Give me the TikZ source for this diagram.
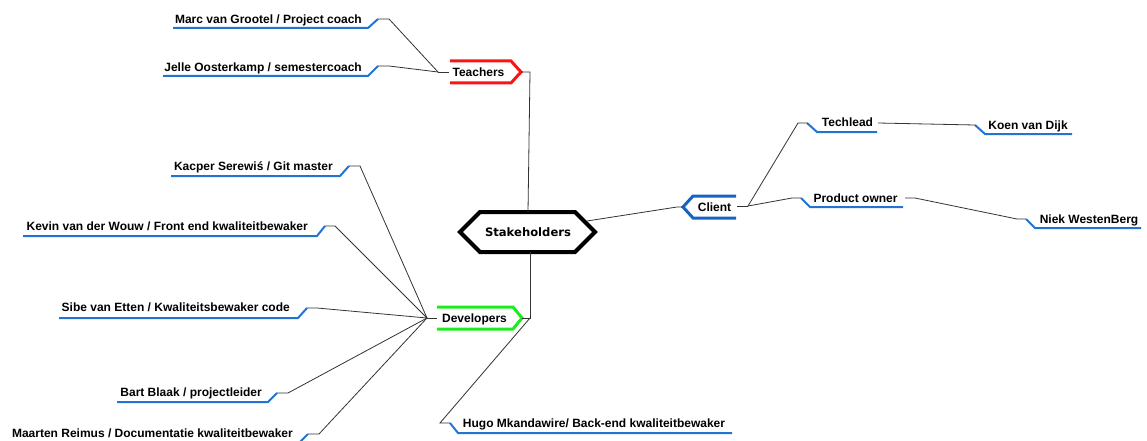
\documentclass[tikz,border=0pt]{standalone}
\usepackage{fontspec}
\setmainfont{Liberation Sans}
\newfontfamily\hexfont{DejaVu Sans}
\definecolor{ublue}{RGB}{35,115,210}
\definecolor{cblue}{RGB}{20,100,195}
\definecolor{tred}{RGB}{250,20,20}
\definecolor{dgreen}{RGB}{30,235,30}
\begin{document}
\begin{tikzpicture}[x=1pt,y=-1pt,
  conn/.style={draw=black!80, line width=0.8pt},
  uline/.style={draw=ublue, line width=2pt},
  lbl/.style={font=\bfseries\fontsize{12}{14}\selectfont, inner sep=0pt, text height=8.6pt, text depth=0pt},
  tagframe/.style={line width=3pt}]
\useasboundingbox (0,0) rectangle (1147,441);

% ---------- central node ----------
\node[font=\hexfont\bfseries\fontsize{11.6}{14}\selectfont, inner sep=0pt] (stake) at (528,232) {Stakeholders};
\draw[line width=4pt] (460,232) -- (480,212) -- (575,212) -- (595,232) -- (575,252) -- (480,252) -- cycle;
\coordinate (stake-top) at (528,212);
\coordinate (stake-bot) at (530,252);
\coordinate (stake-right) at (587,221);

% ---------- Teachers ----------
\node[lbl] (teach) at (478.5,72) {Teachers};
\draw[tagframe, draw=tred] (450,61) -- (511,61) -- (521,72) -- (511,83) -- (450,83);
\coordinate (teach-tip) at (521,72);
\coordinate (teach-j) at (438,72);
\draw[conn] (teach-j) -- (449,72);
\draw[conn] (teach-tip) -- (530,72) -- (stake-top);

\node[lbl, anchor=east] (marc) at (362,19) {Marc van Grootel / Project coach};
\draw[uline] (173,28) -- (368,28) -- (378,19) coordinate (marc-c);
\draw[conn] (marc-c) -- ++(11,0) -- (teach-j);

\node[lbl, anchor=east] (jelle) at (362,67) {Jelle Oosterkamp / semestercoach};
\draw[uline] (163,76) -- (368,76) -- (378,66) coordinate (jelle-c);
\draw[conn] (jelle-c) -- ++(11,0) -- (teach-j);

% ---------- Client ----------
\node[lbl] (client) at (714.5,207) {Client};
\draw[tagframe, draw=cblue] (736,196) -- (693,196) -- (683,207) -- (693,218) -- (736,218);
\coordinate (client-tip) at (683,207);
\coordinate (client-j) at (748,206);
\draw[conn] (stake-right) -- (677,207) -- (client-tip);
\draw[conn] (737,206) -- (client-j);

\node[lbl] (tech) at (847.5,122) {Techlead};
\coordinate (tech-c) at (807,123);
\draw[uline] (tech-c) -- (817,132) -- (877,132);
\draw[conn] (client-j) -- (798,123) -- (tech-c);

\node[lbl] (koen) at (1028,125) {Koen van Dijk};
\coordinate (koen-c) at (975,125);
\draw[uline] (koen-c) -- (985,134) -- (1072,134);
\draw[conn] (878,123) -- (koen-c);

\node[lbl] (po) at (855.5,198) {Product owner};
\coordinate (po-c) at (801,198);
\draw[uline] (po-c) -- (810,207) -- (903,207);
\draw[conn] (client-j) -- (792,198) -- (po-c);

\node[lbl] (niek) at (1089,219) {Niek WestenBerg};
\coordinate (niek-c) at (1026,219);
\draw[uline] (niek-c) -- (1035,228) -- (1141,228);
\draw[conn] (905,198) -- (915,198) -- (1017,219) -- (niek-c);

% ---------- Developers ----------
\node[lbl] (dev) at (474.5,318) {Developers};
\draw[tagframe, draw=dgreen] (437,307) -- (513,307) -- (522,318) -- (513,329) -- (437,329);
\coordinate (dev-tip) at (522,318);
\coordinate (dev-j) at (427,318);
\coordinate (dev-r) at (530,318);
\draw[conn] (dev-j) -- (437,318);
\draw[conn] (dev-tip) -- (dev-r) -- (stake-bot);

\node[lbl, anchor=east] (kacper) at (333,166) {Kacper Serewiś / Git master};
\draw[uline] (171,176) -- (340,176) -- (349,166) coordinate (kacper-c);
\draw[conn] (kacper-c) -- ++(11,0) -- (dev-j);

\node[lbl, anchor=east] (kevin) at (308,226) {Kevin van der Wouw / Front end kwaliteitbewaker};
\draw[uline] (23,236) -- (317,236) -- (325,226) coordinate (kevin-c);
\draw[conn] (kevin-c) -- ++(10,0) -- (dev-j);

\node[lbl, anchor=east] (sibe) at (290,307) {Sibe van Etten / Kwaliteitsbewaker code};
\draw[uline] (59,318) -- (298,318) -- (307,308) coordinate (sibe-c);
\draw[conn] (sibe-c) -- ++(10,0) -- (dev-j);

\node[lbl, anchor=east] (bart) at (262,392) {Bart Blaak / projectleider};
\draw[uline] (117,402) -- (268,402) -- (277,393) coordinate (bart-c);
\draw[conn] (bart-c) -- ++(11,0) -- (dev-j);

\node[lbl, anchor=east] (maarten) at (293,433) {Maarten Reimus / Documentatie kwaliteitbewaker};
\draw[uline] (10,443) -- (299,443) -- (308,434) coordinate (maarten-c);
\draw[conn] (maarten-c) -- ++(11,0) -- (dev-j);

\node[lbl] (hugo) at (594,423) {Hugo Mkandawire/ Back-end kwaliteitbewaker};
\coordinate (hugo-c) at (450,423);
\draw[uline] (hugo-c) -- (458,433) -- (732,433);
\draw[conn] (dev-r) -- (440,423) -- (hugo-c);
\end{tikzpicture}
\end{document}
